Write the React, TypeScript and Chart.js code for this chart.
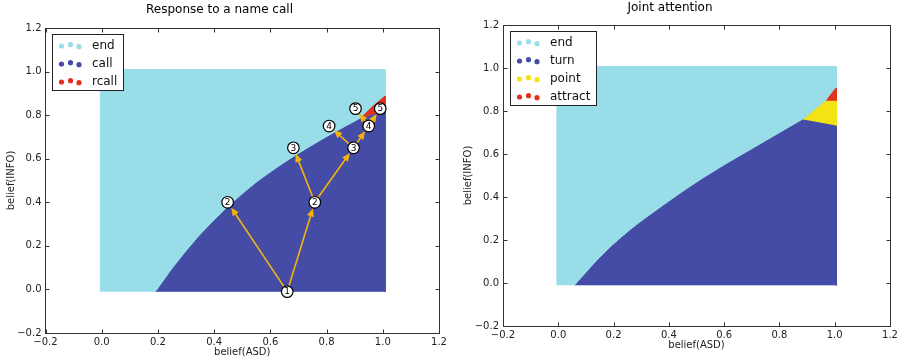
import React, { useEffect, useRef } from 'react';
import { Chart, registerables } from 'chart.js';

Chart.register(...registerables);

const FONT = 'DejaVu Sans';

// ---------- shared axis data ----------
const tickValues = [-0.2, 0.0, 0.2, 0.4, 0.6, 0.8, 1.0, 1.2];
const xAxisTitle = 'belief(ASD)';
const yAxisTitle = 'belief(INFO)';

// ---------- colours ----------
const colEnd = '#99DDE9';
const colBlue = '#444CA6';
const colRed = '#E2321F';
const colYellow = '#F3E314';
const colArrow = '#F5B30A';

// ---------- left chart: Response to a name call ----------
const leftTitle = 'Response to a name call';
const leftLegendLabels = ['end', 'call', 'rcall'];
const leftLegendColors = [colEnd, colBlue, colRed];

const leftEndX = [-0.005, -0.005, 1.008, 1.008];
const leftEndY = [-0.011, 1.009, 1.009, -0.011];

const leftCallX = [0.193, 0.2, 0.25, 0.3, 0.35, 0.4, 0.45, 0.5, 0.55, 0.6, 0.65, 0.7, 0.75, 0.8, 0.85, 0.9, 0.924, 1.008, 1.008];
const leftCallY = [-0.011, 0.0, 0.09, 0.172, 0.248, 0.315, 0.378, 0.435, 0.488, 0.535, 0.579, 0.62, 0.659, 0.697, 0.733, 0.768, 0.785, 0.82, -0.011];

const leftRcallX = [0.922, 0.96, 1.008, 1.008];
const leftRcallY = [0.787, 0.835, 0.888, 0.82];

const nodeLabels = ['1', '2', '2', '3', '3', '4', '4', '5', '5'];
const nodeX = [0.66, 0.448, 0.758, 0.682, 0.896, 0.809, 0.95, 0.903, 0.991];
const nodeY = [-0.01, 0.4, 0.4, 0.65, 0.65, 0.75, 0.75, 0.83, 0.83];
const edgeFrom = [0, 0, 2, 2, 4, 4, 6, 6];
const edgeTo = [1, 2, 3, 4, 5, 6, 7, 8];

// ---------- right chart: Joint attention ----------
const rightTitle = 'Joint attention';
const rightLegendLabels = ['end', 'turn', 'point', 'attract'];
const rightLegendColors = [colEnd, colBlue, colYellow, colRed];

const rightEndX = [-0.005, -0.005, 1.006, 1.006];
const rightEndY = [-0.011, 1.007, 1.007, -0.011];

const rightTurnX = [0.062, 0.08, 0.11, 0.135, 0.16, 0.19, 0.225, 0.26, 0.3, 0.344, 0.385, 0.427, 0.47, 0.517, 0.6, 0.7, 0.8, 0.887, 1.006, 1.006];
const rightTurnY = [-0.011, 0.016, 0.059, 0.095, 0.128, 0.166, 0.206, 0.244, 0.284, 0.325, 0.363, 0.401, 0.439, 0.479, 0.545, 0.62, 0.695, 0.76, 0.733, -0.011];

const rightPointX = [0.887, 0.93, 0.97, 1.006, 1.006];
const rightPointY = [0.76, 0.806, 0.848, 0.848, 0.733];

const rightAttractX = [0.97, 1.0, 1.006, 1.006];
const rightAttractY = [0.848, 0.9, 0.906, 0.848];

// ---------- helpers ----------
const fmt = (v: number) => Number(v).toFixed(1).replace('-', '\u2212');

function poly(xs: number[], ys: number[], color: string, order: number) {
  return {
    type: 'line',
    data: xs.map((x, i) => ({ x, y: ys[i] })),
    borderColor: color,
    backgroundColor: color,
    borderWidth: 1,
    fill: 'shape',
    pointRadius: 0,
    tension: 0,
    order,
  };
}

function framePlugin() {
  return {
    id: 'frameTicks',
    afterDraw(chart: any) {
      const { ctx, chartArea } = chart;
      const L = Math.floor(chartArea.left) + 0.5;
      const R = Math.floor(chartArea.right) + 0.5;
      const T = Math.floor(chartArea.top) + 0.5;
      const B = Math.floor(chartArea.bottom) + 0.5;
      ctx.save();
      ctx.strokeStyle = '#333';
      ctx.lineWidth = 1;
      ctx.strokeRect(L, T, R - L, B - T);
      const len = 4;
      ctx.beginPath();
      chart.scales.x.ticks.forEach((t: any) => {
        const px = Math.round(chart.scales.x.getPixelForValue(t.value)) + 0.5;
        ctx.moveTo(px, B); ctx.lineTo(px, B - len);
        ctx.moveTo(px, T); ctx.lineTo(px, T + len);
      });
      chart.scales.y.ticks.forEach((t: any) => {
        const py = Math.round(chart.scales.y.getPixelForValue(t.value)) + 0.5;
        ctx.moveTo(L, py); ctx.lineTo(L + len, py);
        ctx.moveTo(R, py); ctx.lineTo(R - len, py);
      });
      ctx.stroke();
      ctx.restore();
    },
  };
}

function legendPlugin(labels: string[], colors: string[]) {
  return {
    id: 'boxLegend',
    afterDatasetsDraw(chart: any) {
      const { ctx, chartArea } = chart;
      ctx.save();
      ctx.font = `12px "${FONT}"`;
      const maxW = Math.max(...labels.map((l) => ctx.measureText(l).width));
      const x0 = Math.round(chartArea.left + 6.5) + 0.5;
      const y0 = Math.round(chartArea.top + 6) + 0.5;
      const w = Math.round(39.5 + maxW + 6);
      const h = Math.round(11 + (labels.length - 1) * 18 + 8.5);
      ctx.fillStyle = '#fff';
      ctx.fillRect(x0, y0, w, h);
      ctx.strokeStyle = '#222';
      ctx.lineWidth = 1;
      ctx.strokeRect(x0, y0, w, h);
      const dxs = [9, 18, 26.5];
      const dys = [0.5, -0.8, 1.2];
      labels.forEach((lab, i) => {
        const cy = y0 + 11 + 18 * i;
        ctx.fillStyle = colors[i];
        dxs.forEach((dx, k) => {
          ctx.beginPath();
          ctx.arc(x0 + dx, cy + dys[k], 2.6, 0, Math.PI * 2);
          ctx.fill();
        });
        ctx.fillStyle = '#111';
        ctx.textAlign = 'left';
        ctx.textBaseline = 'middle';
        ctx.fillText(lab, x0 + 39.5, cy + 0.5);
      });
      ctx.restore();
    },
  };
}

function arrowPlugin(nodeDatasetIndex: number) {
  return {
    id: 'arrows',
    beforeDatasetDraw(chart: any, args: any) {
      if (args.index !== nodeDatasetIndex) return;
      const { ctx } = chart;
      const xs = chart.scales.x;
      const ys = chart.scales.y;
      ctx.save();
      ctx.strokeStyle = colArrow;
      ctx.fillStyle = colArrow;
      ctx.lineWidth = 1.6;
      edgeFrom.forEach((f, i) => {
        const t = edgeTo[i];
        const x1 = xs.getPixelForValue(nodeX[f]);
        const y1 = ys.getPixelForValue(nodeY[f]);
        const x2 = xs.getPixelForValue(nodeX[t]);
        const y2 = ys.getPixelForValue(nodeY[t]);
        const a = Math.atan2(y2 - y1, x2 - x1);
        const c = Math.cos(a);
        const s = Math.sin(a);
        const r = 6.5;
        const tipX = x2 - c * r;
        const tipY = y2 - s * r;
        const hl = 8;
        const hw = 3.6;
        const bx = tipX - c * hl;
        const by = tipY - s * hl;
        ctx.beginPath();
        ctx.moveTo(x1, y1);
        ctx.lineTo(bx + c * 1, by + s * 1);
        ctx.stroke();
        ctx.beginPath();
        ctx.moveTo(tipX, tipY);
        ctx.lineTo(bx - s * hw, by + c * hw);
        ctx.lineTo(bx + s * hw, by - c * hw);
        ctx.closePath();
        ctx.fill();
      });
      ctx.restore();
    },
    afterDatasetsDraw(chart: any) {
      const { ctx } = chart;
      const xs = chart.scales.x;
      const ys = chart.scales.y;
      ctx.save();
      ctx.font = `9px "${FONT}"`;
      ctx.fillStyle = '#000';
      ctx.textAlign = 'center';
      ctx.textBaseline = 'middle';
      nodeLabels.forEach((lab, i) => {
        ctx.fillText(lab, xs.getPixelForValue(nodeX[i]), ys.getPixelForValue(nodeY[i]) + 0.5);
      });
      ctx.restore();
    },
  };
}

type Layout = {
  padL: number; padR: number; padB: number;
  yAxisW: number; xAxisH: number;
  titleTop: number; titleBottom: number;
  yTitlePad: number;
};

function makeConfig(title: string, datasets: any[], lay: Layout, plugins: any[]) {
  return {
    type: 'line',
    data: { datasets },
    options: {
      responsive: false,
      animation: false,
      devicePixelRatio: 1,
      events: [],
      layout: { padding: { left: lay.padL, right: lay.padR, top: 0, bottom: lay.padB } },
      plugins: {
        legend: { display: false },
        tooltip: { enabled: false },
        title: {
          display: true,
          text: title,
          color: '#000',
          font: { family: FONT, size: 12, weight: 'normal' },
          padding: { top: lay.titleTop, bottom: lay.titleBottom },
        },
      },
      scales: {
        x: {
          type: 'linear',
          min: -0.2,
          max: 1.2,
          afterBuildTicks: (s: any) => { s.ticks = tickValues.map((v) => ({ value: v })); },
          afterFit: (s: any) => { s.height = lay.xAxisH; },
          grid: { display: false, drawTicks: false },
          border: { display: false },
          ticks: {
            autoSkip: false,
            maxRotation: 0,
            padding: 3,
            color: '#222',
            font: { family: FONT, size: 10 },
            callback: (v: any) => fmt(v),
          },
          title: {
            display: true,
            text: xAxisTitle,
            color: '#222',
            font: { family: FONT, size: 10 },
            padding: { top: 0, bottom: 0 },
          },
        },
        y: {
          type: 'linear',
          min: -0.2,
          max: 1.2,
          afterBuildTicks: (s: any) => { s.ticks = tickValues.map((v) => ({ value: v })); },
          afterFit: (s: any) => { s.width = lay.yAxisW; },
          grid: { display: false, drawTicks: false },
          border: { display: false },
          ticks: {
            autoSkip: false,
            padding: 4,
            color: '#222',
            font: { family: FONT, size: 10 },
            callback: (v: any) => fmt(v),
          },
          title: {
            display: true,
            text: yAxisTitle,
            color: '#222',
            font: { family: FONT, size: 10 },
            padding: { top: lay.yTitlePad, bottom: 0 },
          },
        },
      },
    },
    plugins,
  };
}

function leftConfig() {
  const datasets = [
    poly(leftEndX, leftEndY, colEnd, 5),
    poly(leftCallX, leftCallY, colBlue, 4),
    poly(leftRcallX, leftRcallY, colRed, 3),
    {
      type: 'line',
      data: nodeX.map((x, i) => ({ x, y: nodeY[i] })),
      showLine: false,
      pointRadius: 5.8,
      pointBackgroundColor: '#fff',
      pointBorderColor: '#000',
      pointBorderWidth: 1.2,
      order: 0,
    },
  ];
  const lay: Layout = {
    padL: 0, padR: 16, padB: 0,
    yAxisW: 45.5, xAxisH: 25,
    titleTop: 3, titleBottom: 10.6,
    yTitlePad: 5,
  };
  return makeConfig(leftTitle, datasets, lay, [
    arrowPlugin(3),
    legendPlugin(leftLegendLabels, leftLegendColors),
    framePlugin(),
  ]);
}

function rightConfig() {
  const datasets = [
    poly(rightEndX, rightEndY, colEnd, 5),
    poly(rightTurnX, rightTurnY, colBlue, 4),
    poly(rightPointX, rightPointY, colYellow, 3),
    poly(rightAttractX, rightAttractY, colRed, 2),
  ];
  const lay: Layout = {
    padL: 0, padR: 41, padB: 7,
    yAxisW: 53, xAxisH: 25,
    titleTop: 1, titleBottom: 9.6,
    yTitlePad: 12,
  };
  return makeConfig(rightTitle, datasets, lay, [
    legendPlugin(rightLegendLabels, rightLegendColors),
    framePlugin(),
  ]);
}

function ChartCanvas({ make, left, width }: { make: () => any; left: number; width: number }) {
  const ref = useRef<HTMLCanvasElement>(null);
  useEffect(() => {
    const chart = new Chart(ref.current as HTMLCanvasElement, make());
    return () => chart.destroy();
  }, []);
  return (
    <canvas
      ref={ref}
      width={width}
      height={358}
      style={{ position: 'absolute', left, top: 0, width, height: 358 }}
    />
  );
}

export default function App() {
  return (
    <div style={{ position: 'fixed', left: 0, top: 0, width: 899, height: 358, background: '#fff', overflow: 'hidden' }}>
      <ChartCanvas make={leftConfig} left={0} width={455} />
      <ChartCanvas make={rightConfig} left={450} width={481} />
    </div>
  );
}
